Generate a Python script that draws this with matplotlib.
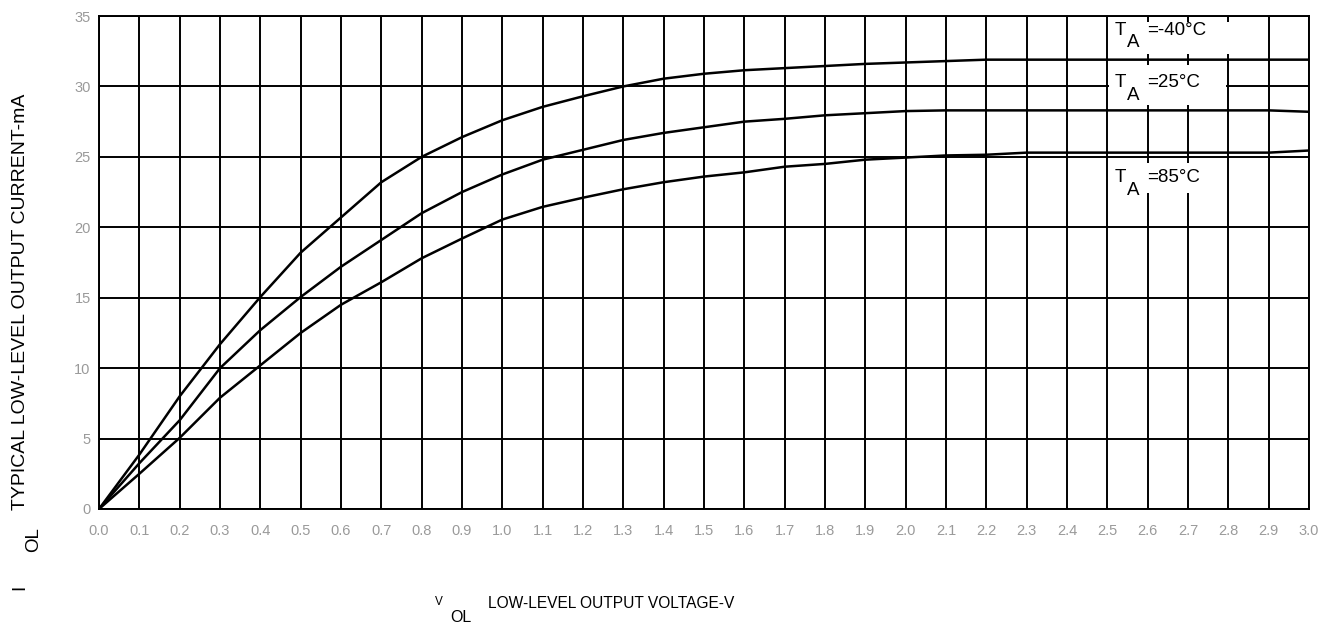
import matplotlib
matplotlib.use("Agg")
import matplotlib.pyplot as plt
from matplotlib.patches import Rectangle

plt.rcParams['font.family'] = ['Liberation Sans', 'DejaVu Sans']

# tension de sortie (V)
vol = [0.0, 0.1, 0.2, 0.3, 0.4, 0.5, 0.6, 0.7, 0.8, 0.9, 1.0,
       1.1, 1.2, 1.3, 1.4, 1.5, 1.6, 1.7, 1.8, 1.9, 2.0,
       2.1, 2.2, 2.3, 2.4, 2.5, 2.6, 2.7, 2.8, 2.9, 3.0]

# courant de sortie (mA) pour chaque temperature
iol_m40 = [0, 3.86, 8.0, 11.7, 15.05, 18.2, 20.7, 23.2, 25.0, 26.4, 27.6,
           28.55, 29.3, 30.0, 30.55, 30.9, 31.15, 31.3, 31.45, 31.6, 31.7,
           31.8, 31.9, 31.9, 31.9, 31.9, 31.9, 31.9, 31.9, 31.9, 31.9]
iol_25 = [0, 3.25, 6.3, 10.0, 12.7, 15.05, 17.2, 19.1, 21.0, 22.5, 23.75,
          24.8, 25.5, 26.2, 26.7, 27.1, 27.5, 27.7, 27.95, 28.1, 28.25,
          28.3, 28.3, 28.3, 28.3, 28.3, 28.3, 28.3, 28.3, 28.3, 28.2]
iol_85 = [0, 2.5, 5.05, 7.9, 10.2, 12.5, 14.5, 16.1, 17.8, 19.2, 20.55,
          21.45, 22.1, 22.7, 23.2, 23.6, 23.9, 24.3, 24.5, 24.8, 24.95,
          25.1, 25.15, 25.3, 25.3, 25.3, 25.3, 25.3, 25.3, 25.3, 25.45]

etiquettes = ["=-40°C", "=25°C", "=85°C"]
xticks = vol
yticks = [0, 5, 10, 15, 20, 25, 30, 35]

W, H = 1333, 624
fig = plt.figure(figsize=(W / 100, H / 100), dpi=100)
ax = fig.add_axes([99 / W, 1 - 509 / H, 1210 / W, 493 / H])

ax.set_xlim(0, 3.0)
ax.set_ylim(0, 35)
ax.set_xticks(xticks)
ax.set_xticklabels([f"{v:.1f}" for v in xticks])
ax.set_yticks(yticks)
ax.tick_params(length=0, labelsize=10.5, labelcolor="#9a9a9a")
ax.tick_params(axis="x", pad=11)
ax.tick_params(axis="y", pad=6)
ax.grid(True, color="black", linewidth=1.4, zorder=1)
ax.set_axisbelow(True)
for s in ax.spines.values():
    s.set_linewidth(1.4)
    s.set_zorder(5)

for serie in (iol_m40, iol_25, iol_85):
    ax.plot(vol, serie, color="black", linewidth=1.8, zorder=4)

# fonds blancs derriere les etiquettes
ax.add_patch(Rectangle((2.505, iol_m40[-1] + 0.4), 0.36, 35 - 0.4 - iol_m40[-1] - 0.4,
                       facecolor="white", edgecolor="none", zorder=2))
ax.add_patch(Rectangle((2.505, iol_25[-2] + 0.4), 0.29, iol_m40[-1] - iol_25[-2] - 0.8,
                       facecolor="white", edgecolor="none", zorder=2))
ax.add_patch(Rectangle((2.505, 22.4), 0.29, 24.55 - 22.4,
                       facecolor="white", edgecolor="none", zorder=2))

# etiquettes T_A
pos_y = [(33.65, 32.8), (29.96, 29.04), (23.21, 22.29)]
for txt, (yb, ya) in zip(etiquettes, pos_y):
    ax.text(2.518, yb, "T", fontsize=13.5, va="baseline", ha="left", zorder=6)
    ax.text(2.548, ya, "A", fontsize=13.5, va="baseline", ha="left", zorder=6)
    ax.text(2.598, yb, txt, fontsize=13.5, va="baseline", ha="left", zorder=6)

# titre de l'axe x
fig.text(435 / W, 1 - 605 / H, "V", fontsize=8.5, va="baseline", ha="left")
fig.text(450 / W, 1 - 622 / H, "OL", fontsize=11.5, va="baseline", ha="left")
fig.text(488 / W, 1 - 608 / H, "LOW-LEVEL OUTPUT VOLTAGE-V", fontsize=11.2,
         va="baseline", ha="left")

# titre de l'axe y
fig.text(20 / W, 1 - 587 / H, "I", fontsize=13.5, rotation=90, va="center", ha="center")
fig.text(34 / W, 1 - 540 / H, "OL", fontsize=13.5, rotation=90, va="center", ha="center")
fig.text(20.5 / W, 1 - 302 / H, "TYPICAL LOW-LEVEL OUTPUT CURRENT-mA", fontsize=14,
         rotation=90, va="center", ha="center")

fig.savefig("out.png", dpi=100, facecolor="white")
